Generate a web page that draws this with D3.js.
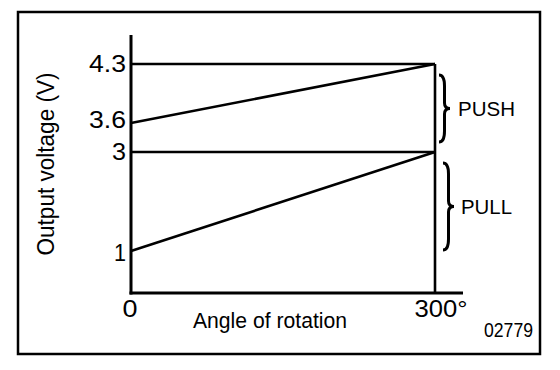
<!DOCTYPE html>
<html>
<head>
<meta charset="utf-8">
<script src="https://cdn.jsdelivr.net/npm/d3@7"></script>
<style>
html,body{margin:0;padding:0;background:#fff;}
svg{display:block;font-family:"Liberation Sans",Arial,sans-serif;}
</style>
</head>
<body>
<svg id="chart" width="560" height="370"></svg>
<script>
// ---- data ----
const xTicks = [0, 300];
const xTickLabels = ["0", "300°"];
const yTicks = [1, 3, 3.6, 4.3];
const yTickLabels = ["1", "3", "3.6", "4.3"];
const pushLine = [[0, 3.6], [300, 4.3]];
const pullLine = [[0, 1], [300, 3]];
const refLines = [[[0, 4.3], [300, 4.3]], [[0, 3], [300, 3]]];
const endLine = [[300, 0], [300, 4.3]];
const braceLabels = ["PUSH", "PULL"];
const xTitle = "Angle of rotation";
const yTitle = "Output voltage (V)";
const figId = "02779";

// ---- layout ----
const svg = d3.select("#chart");
const x = d3.scaleLinear().domain([0, 300]).range([131, 435]);
// schematic (non-uniform) voltage axis
const y = d3.scaleLinear().domain([0, 1, 3, 3.6, 4.3]).range([293, 251, 152, 123, 64]);

// frame
svg.append("rect").attr("x", 18).attr("y", 12).attr("width", 522).attr("height", 342)
  .attr("fill", "none").attr("stroke", "#000").attr("stroke-width", 2.5);

const line = d3.line().x(d => x(d[0])).y(d => y(d[1]));

// axes
svg.append("line").attr("x1", x(0)).attr("x2", x(0)).attr("y1", y(0) + 1.5).attr("y2", 35)
  .attr("stroke", "#000").attr("stroke-width", 3);
svg.append("line").attr("x1", x(0) - 1.5).attr("x2", 463).attr("y1", y(0)).attr("y2", y(0))
  .attr("stroke", "#000").attr("stroke-width", 3);

// data lines
const g = svg.append("g").attr("fill", "none").attr("stroke", "#000").attr("stroke-width", 2.6);
refLines.forEach(l => g.append("path").attr("d", line(l)));
g.append("path").attr("d", line(pushLine));
g.append("path").attr("d", line(pullLine));
g.append("path").attr("d", line(endLine));

// y tick labels
const yWidths = {"1": 12, "3": 14, "3.6": 37, "4.3": 37};
svg.append("g").selectAll("text").data(yTicks).join("text")
  .attr("x", x(0) - 5)
  .attr("y", (d, i) => y(d) + 8 - (d === 3.6 ? 3 : 0) + (d === 1 ? 2 : 0))
  .attr("text-anchor", "end")
  .attr("font-size", 23)
  .attr("textLength", (d, i) => yWidths[yTickLabels[i]])
  .attr("lengthAdjust", "spacingAndGlyphs")
  .text((d, i) => yTickLabels[i]);

// x tick labels
svg.append("g").selectAll("text").data(xTicks).join("text")
  .attr("x", (d, i) => i === 0 ? x(d) - 1 : x(d) + 6)
  .attr("y", 317)
  .attr("text-anchor", "middle")
  .attr("font-size", 24)
  .attr("textLength", (d, i) => i === 0 ? 15 : 53)
  .attr("lengthAdjust", "spacingAndGlyphs")
  .text((d, i) => xTickLabels[i]);

// axis titles
svg.append("text").attr("x", 270).attr("y", 328).attr("text-anchor", "middle")
  .attr("font-size", 22).attr("textLength", 154).attr("lengthAdjust", "spacingAndGlyphs")
  .text(xTitle);
svg.append("text").attr("transform", "translate(54,164) rotate(-90)")
  .attr("text-anchor", "middle").attr("font-size", 23)
  .attr("textLength", 183).attr("lengthAdjust", "spacingAndGlyphs")
  .text(yTitle);

// braces
function brace(x0, y0, y1, w) {
  const ym = (y0 + y1) / 2, h = w / 2;
  return `M${x0},${y0} Q${x0 + h},${y0} ${x0 + h},${y0 + w}`
    + ` L${x0 + h},${ym - h} Q${x0 + h},${ym} ${x0 + w},${ym}`
    + ` Q${x0 + h},${ym} ${x0 + h},${ym + h}`
    + ` L${x0 + h},${y1 - w} Q${x0 + h},${y1} ${x0},${y1}`;
}
const braces = [
  {x0: 439, y0: y(4.3) + 11, y1: y(3) - 10, label: braceLabels[0], tx: 458, tl: 57},
  {x0: 443, y0: y(3) + 11, y1: y(1) - 1, label: braceLabels[1], tx: 461, tl: 51}
];
braces.forEach(b => {
  svg.append("path").attr("d", brace(b.x0, b.y0, b.y1, 11))
    .attr("fill", "none").attr("stroke", "#000").attr("stroke-width", 3);
  svg.append("text").attr("x", b.tx).attr("y", (b.y0 + b.y1) / 2 + 7.5)
    .attr("font-size", 20).attr("textLength", b.tl).attr("lengthAdjust", "spacingAndGlyphs")
    .text(b.label);
});

// figure id
svg.append("text").attr("x", 533).attr("y", 337).attr("text-anchor", "end")
  .attr("font-size", 20).attr("textLength", 49).attr("lengthAdjust", "spacingAndGlyphs")
  .text(figId);
</script>
</body>
</html>
